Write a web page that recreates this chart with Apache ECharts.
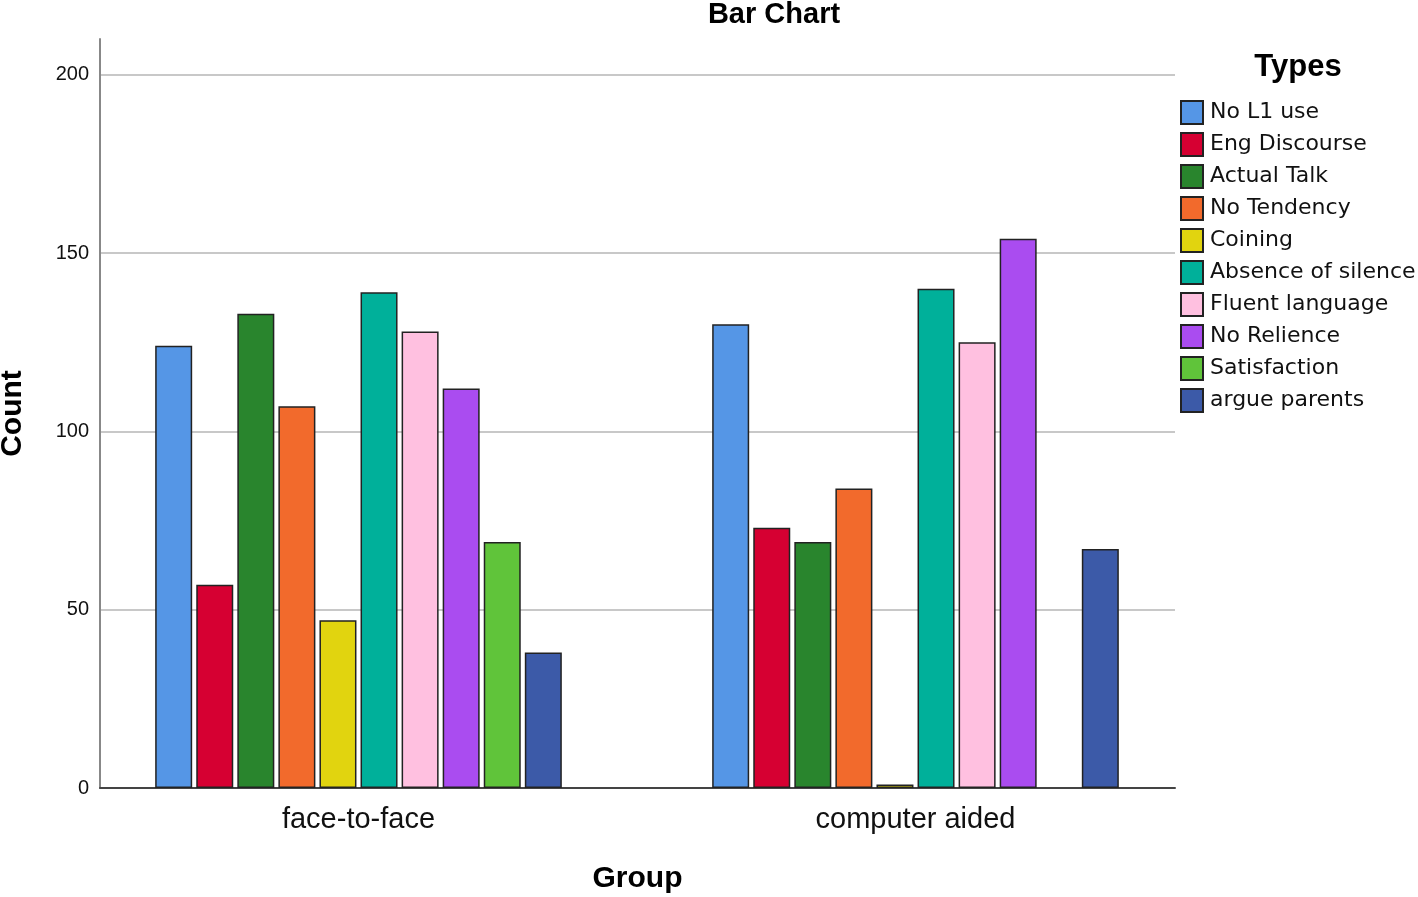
<!DOCTYPE html>
<html>
<head>
<meta charset="utf-8">
<script src="https://cdn.jsdelivr.net/npm/echarts@6/dist/echarts.min.js"></script>
<style>
  html, body { margin: 0; padding: 0; background: #fff; }
  #chart { width: 1418px; height: 897px; }
</style>
</head>
<body>
<div id="chart"></div>
<script>
// categories on the x axis
var groups = ["face-to-face", "computer aided"];
// one series per type
var types = ["No L1 use", "Eng Discourse", "Actual Talk", "No Tendency", "Coining",
  "Absence of silence", "Fluent language", "No Relience", "Satisfaction", "argue parents"];
var colors = ["#5596E6", "#D60032", "#29852D", "#F26A2C", "#E1D40F",
  "#00B09A", "#FFC0E0", "#AA4CF0", "#60C43A", "#3C5AA8"];
// counts: [face-to-face, computer aided]
var noL1 = [124, 130];
var engDiscourse = [57, 73];
var actualTalk = [133, 69];
var noTendency = [107, 84];
var coining = [47, 1];
var absenceSilence = [139, 140];
var fluentLanguage = [128, 125];
var noRelience = [112, 154];
var satisfaction = [69, "-"];
var argueParents = [38, 67];
var counts = [noL1, engDiscourse, actualTalk, noTendency, coining,
  absenceSilence, fluentLanguage, noRelience, satisfaction, argueParents];
var yTicks = [0, 50, 100, 150, 200];

var font = "Liberation Sans, Arial, sans-serif";
var legendFont = "DejaVu Sans, sans-serif";
var chart = echarts.init(document.getElementById("chart"));

var series = types.map(function (name, i) {
  return {
    name: name,
    type: "bar",
    xAxisIndex: 1,
    yAxisIndex: 1,
    data: counts[i],
    barWidth: 37,
    barGap: "11%",
    itemStyle: {
      color: colors[i],
      borderColor: "#222",
      borderWidth: 1.5
    },
    emphasis: { disabled: true }
  };
});

chart.setOption({
  animation: false,
  title: [
    {
      text: "Bar Chart",
      left: 774,
      top: 0,
      padding: 0,
      textAlign: "center",
      textStyle: { fontFamily: font, fontWeight: "bold", fontSize: 29, color: "#000" }
    },
    {
      text: "Types",
      left: 1298,
      top: 52,
      padding: 0,
      textAlign: "center",
      textStyle: { fontFamily: font, fontWeight: "bold", fontSize: 31, color: "#000" }
    }
  ],
  legend: {
    data: types,
    orient: "vertical",
    left: 1180,
    top: 100,
    padding: 0,
    itemWidth: 22,
    itemHeight: 23,
    itemGap: 7,
    icon: "rect",
    selectedMode: false,
    textStyle: { fontFamily: legendFont, fontSize: 22, lineHeight: 23, color: "#111", padding: [0, 0, 0, 2] }
  },
  grid: [
    // axes frame
    { left: 100, right: 243, top: 39, bottom: 109, outerBoundsMode: "none" },
    // bars (wider band so group centres match)
    { left: 80, right: 224, top: 39, bottom: 109, outerBoundsMode: "none" }
  ],
  xAxis: [
    {
      type: "category",
      gridIndex: 0,
      data: groups,
      name: "Group",
      nameLocation: "middle",
      nameGap: 76,
      nameTextStyle: { fontFamily: font, fontWeight: "bold", fontSize: 30, color: "#000" },
      axisLine: { lineStyle: { color: "#444", width: 2 } },
      axisTick: { show: false },
      axisLabel: { show: false },
      splitLine: { show: false }
    },
    {
      type: "category",
      gridIndex: 1,
      data: groups,
      axisLine: { show: false },
      axisTick: { show: false },
      axisLabel: { fontFamily: font, fontSize: 29, color: "#111", margin: 17 },
      splitLine: { show: false }
    }
  ],
  yAxis: [
    {
      type: "value",
      gridIndex: 0,
      min: 0,
      max: 210,
      interval: 50,
      name: "Count",
      nameLocation: "middle",
      nameGap: 72,
      nameTextStyle: { fontFamily: font, fontWeight: "bold", fontSize: 30, color: "#000" },
      axisLine: { show: true, lineStyle: { color: "#888", width: 2 } },
      axisTick: { show: false },
      axisLabel: {
        fontFamily: font, fontSize: 20, color: "#111", margin: 11,
        showMaxLabel: false,
        formatter: function (v) { return yTicks.indexOf(v) >= 0 ? String(v) : ""; }
      },
      splitLine: { show: true, showMaxLine: false, lineStyle: { color: "#c8c8c8", width: 2 } }
    },
    {
      type: "value",
      gridIndex: 1,
      min: 0,
      max: 210,
      show: false,
      splitLine: { show: false }
    }
  ],
  series: series
});
</script>
</body>
</html>
